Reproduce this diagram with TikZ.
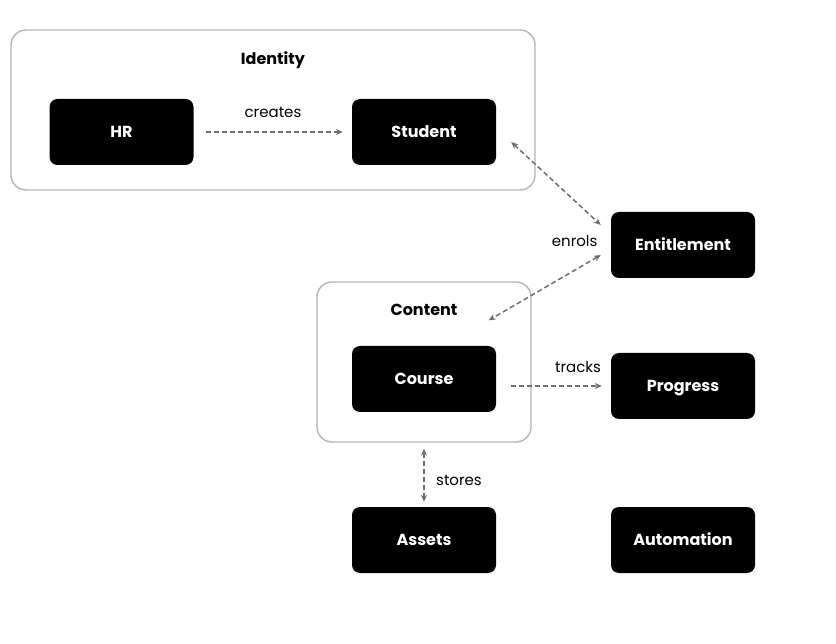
\documentclass[tikz,border=0pt]{standalone}
\usepackage{fontspec}
\setmainfont{Poppins}
\usepackage{tikz}
\usetikzlibrary{positioning,fit,backgrounds,arrows.meta}

\definecolor{linkgray}{HTML}{6E6E6E}
\definecolor{boxgray}{HTML}{B4B4B4}

\begin{document}
\begin{tikzpicture}[
        x=1pt, y=-1pt,
        % Styles
        block/.style={rectangle, fill=black, text=white, rounded corners=8pt, minimum width=144pt, minimum height=66pt, text height=11.5pt, text depth=0pt, font=\fontsize{16}{19}\selectfont\bfseries},
        group/.style={rectangle, draw=boxgray, line width=1.4pt, rounded corners=15pt},
        grouptitle/.style={text height=11.5pt, text depth=0pt, font=\fontsize{16}{19}\selectfont\bfseries},
        link/.style={draw=linkgray, line width=1.5pt, dashed, dash pattern=on 5pt off 3pt, -{Stealth[length=7pt,width=6pt]}},
        both/.style={link, {Stealth[length=7pt,width=6pt]}-{Stealth[length=7pt,width=6pt]}},
        tag/.style={font=\fontsize{15}{18}\selectfont}
    ]
    \useasboundingbox (0,0) rectangle (836,644);

    % ================= GROUP BOXES =================
    \node[group, minimum width=524pt, minimum height=160pt] (identity) at (273, 110) {};
    \node[grouptitle] (idtitle) at (273, 59) {Identity};

    \node[group, minimum width=214pt, minimum height=160pt] (content) at (424, 362) {};
    \node[grouptitle] (cttitle) at (424, 310) {Content};

    % ================= BLOCKS =================
    \node[block] (hr) at (121.5, 132) {HR};
    \node[block] (student) at (424, 132) {Student};
    \node[block] (ent) at (683, 245) {Entitlement};
    \node[block] (course) at (424, 379) {Course};
    \node[block] (prog) at (683, 386) {Progress};
    \node[block] (assets) at (424, 540) {Assets};
    \node[block] (auto) at (683, 540) {Automation};

    % ================= LINKS =================
    \draw[link] ([xshift=12pt]hr.east) -- ([xshift=-9pt]student.west);
    \node[tag] (creates) at (273, 112) {creates};

    \draw[both] ([shift={(15,10)}]student.east) -- ([shift={(-10,-20)}]ent.west);
    \draw[both] ([shift={(-10,10)}]ent.west) -- ([shift={(-43,39)}]content.north east);
    \node[tag, anchor=east] (enrols) at (601, 241) {enrols};

    \draw[link] ([shift={(15,7)}]course.east) -- ([shift={(-9,0)}]prog.west);
    \node[tag] (tracks) at (578, 367) {tracks};

    \draw[both] ([yshift=-6pt]content.south) -- ([yshift=5pt]assets.north);
    \node[tag] (stores) at (459, 480) {stores};

\end{tikzpicture}
\end{document}
